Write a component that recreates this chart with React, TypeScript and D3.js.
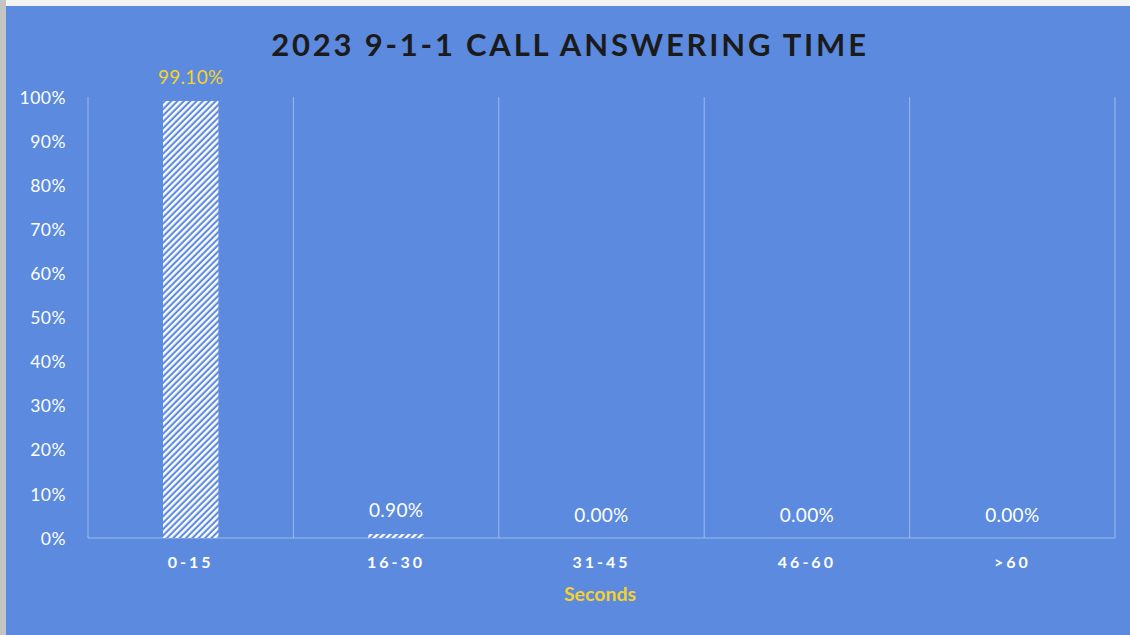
import { useEffect, useRef } from 'react';
import * as d3 from 'd3';

// chart data
const categories = ['0-15', '16-30', '31-45', '46-60', '>60'];
const shares = [99.1, 0.9, 0, 0, 0];
const yTicks = [0, 10, 20, 30, 40, 50, 60, 70, 80, 90, 100];

const W = 1130;
const H = 635;
const bg = '#5B8ADF';
const font = 'Lato, "Open Sans", sans-serif';

export default function App() {
  const gy = useRef<SVGGElement>(null);

  const marginLeft = 88;
  const marginRight = 15;
  const top = 97;
  const bottom = 538;

  const x = d3.scaleBand().domain(categories).range([marginLeft, W - marginRight]).paddingInner(0).paddingOuter(0);
  const y = d3.scaleLinear().domain([0, 100]).range([bottom, top]);
  const barW = x.bandwidth() * 0.27;

  useEffect(() => {
    if (gy.current) {
      const g = d3.select(gy.current);
      g.selectAll('*').remove();
      g.call(d3.axisLeft(y).tickValues(yTicks).tickSize(0).tickPadding(22).tickFormat(d => `${d}%`));
      g.select('.domain').remove();
      g.selectAll('text')
        .attr('fill', '#ffffff')
        .attr('font-size', 17.5)
        .attr('font-family', font)
        .attr('letter-spacing', 0.5)
        .attr('dy', '0.35em');
    }
  }, [y]);

  return (
    <div style={{ position: 'fixed', left: 0, top: 0 }}>
      <svg width={W} height={H}>
        <defs>
          <pattern id="hatch" patternUnits="userSpaceOnUse" width={4.5} height={4.5} patternTransform="rotate(45)">
            <rect width={4.5} height={4.5} fill={bg} />
            <rect width={2.4} height={4.5} fill="#ffffff" />
          </pattern>
        </defs>
        {/* photo edge behind the chart */}
        <rect x={0} y={0} width={W} height={H} fill="#f3f3f3" />
        <rect x={0} y={0} width={6} height={H} fill="#c4c4c4" />
        <rect x={6} y={6} width={W - 6} height={H - 6} fill={bg} />

        <text x={570} y={56} textAnchor="middle" fill="#1b1b1b" fontFamily={font} fontWeight={700}
          fontSize={31} letterSpacing={2.8}>2023 9-1-1 CALL ANSWERING TIME</text>

        {/* vertical separators between categories */}
        {[...categories.map(c => x(c) ?? 0), W - marginRight].map((v, i) =>
          <line key={i} x1={v} x2={v} y1={top} y2={bottom} stroke="#9DB8EE" strokeWidth={1} />)}
        <line x1={marginLeft} x2={W - marginRight} y1={bottom} y2={bottom} stroke="#9DB8EE" strokeWidth={1} />

        {categories.map((c, i) => {
          const cx = (x(c) ?? 0) + x.bandwidth() / 2;
          const yy = y(shares[i]);
          return (
            <g key={c}>
              {shares[i] > 0 &&
                <rect x={cx - barW / 2} y={yy} width={barW} height={bottom - yy} fill="url(#hatch)" />}
              <text x={cx} y={yy - (shares[i] > 0 ? 17 : 16)} textAnchor="middle"
                fill={i === 0 ? '#F5D12E' : '#ffffff'} fontFamily={font} fontSize={19} letterSpacing={0.3}>
                {shares[i].toFixed(2)}%
              </text>
              <text x={cx} y={568} textAnchor="middle" fill="#ffffff" fontFamily={font} fontSize={16}
                fontWeight={700} letterSpacing={3}>{c}</text>
            </g>
          );
        })}

        <g ref={gy} transform={`translate(${marginLeft},0)`}></g>

        <text x={600} y={601} textAnchor="middle" fill="#F5D12E" fontFamily={font} fontWeight={700}
          fontSize={19.5}>Seconds</text>
      </svg>
    </div>
  );
}
